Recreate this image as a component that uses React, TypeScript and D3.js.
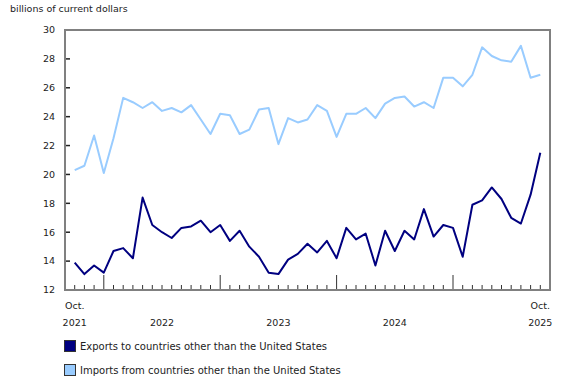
import React from "react";
import * as d3 from "d3";

const months = [
  "2021-10","2021-11","2021-12",
  "2022-01","2022-02","2022-03","2022-04","2022-05","2022-06","2022-07","2022-08","2022-09","2022-10","2022-11","2022-12",
  "2023-01","2023-02","2023-03","2023-04","2023-05","2023-06","2023-07","2023-08","2023-09","2023-10","2023-11","2023-12",
  "2024-01","2024-02","2024-03","2024-04","2024-05","2024-06","2024-07","2024-08","2024-09","2024-10","2024-11","2024-12",
  "2025-01","2025-02","2025-03","2025-04","2025-05","2025-06","2025-07","2025-08","2025-09","2025-10",
];

const exportsData = [
  13.9, 13.1, 13.7,
  13.2, 14.7, 14.9, 14.2, 18.4, 16.5, 16.0, 15.6, 16.3, 16.4, 16.8, 16.0,
  16.5, 15.4, 16.1, 15.0, 14.3, 13.2, 13.1, 14.1, 14.5, 15.2, 14.6, 15.4,
  14.2, 16.3, 15.5, 15.9, 13.7, 16.1, 14.7, 16.1, 15.5, 17.6, 15.7, 16.5,
  16.3, 14.3, 17.9, 18.2, 19.1, 18.3, 17.0, 16.6, 18.6, 21.5,
];

const importsData = [
  20.3, 20.6, 22.7,
  20.1, 22.5, 25.3, 25.0, 24.6, 25.0, 24.4, 24.6, 24.3, 24.8, 23.8, 22.8,
  24.2, 24.1, 22.8, 23.1, 24.5, 24.6, 22.1, 23.9, 23.6, 23.8, 24.8, 24.4,
  22.6, 24.2, 24.2, 24.6, 23.9, 24.9, 25.3, 25.4, 24.7, 25.0, 24.6, 26.7,
  26.7, 26.1, 26.9, 28.8, 28.2, 27.9, 27.8, 28.9, 26.7, 26.9,
];

const yTicks = [12, 14, 16, 18, 20, 22, 24, 26, 28, 30];
const yearLabels = ["2022", "2023", "2024"];
const yearCenterMonths = ["2022-07", "2023-07", "2024-07"];
const seriesNames = [
  "Exports to countries other than the United States",
  "Imports from countries other than the United States",
];
const seriesColors = ["#000080", "#99ccff"];
const yUnit = "billions of current dollars";

const W = 580;
const H = 385;
const L = 65, R = 550, T = 30, B = 290;
const FONT = "'DejaVu Sans', Verdana, sans-serif";

export default function App() {
  const x = d3.scaleLinear().domain([-1, months.length]).range([L, R]);
  const y = d3.scaleLinear().domain([12, 30]).range([B, T]);
  const idx = months.map((_, i) => i);
  const line = d3
    .line<number>()
    .x((_, i) => x(i))
    .y((d) => y(d));

  return (
    <svg
      width={W}
      height={H}
      style={{ position: "absolute", left: 0, top: 0, background: "#fff" }}
      fontFamily={FONT}
    >
      <text x={10} y={12} fontSize={9.5} fill="#222">
        {yUnit}
      </text>

      {/* y ticks and labels */}
      {yTicks.map((t) => (
        <g key={t}>
          <line x1={L} x2={L + 5} y1={y(t)} y2={y(t)} stroke="#222" strokeWidth={1.5} />
          <text x={55} y={y(t)} dy="0.35em" textAnchor="end" fontSize={9.5} fill="#222">
            {t}
          </text>
        </g>
      ))}

      {/* x ticks */}
      {idx.map((i) => {
        const isJan = months[i].endsWith("-01");
        return (
          <line
            key={i}
            x1={x(i)}
            x2={x(i)}
            y1={B}
            y2={isJan ? B - 15 : B - 5}
            stroke="#333"
            strokeWidth={1}
          />
        );
      })}

      {/* frame */}
      <rect x={L} y={T} width={R - L} height={B - T} fill="none" stroke="#808080" strokeWidth={2} />

      {/* lines */}
      <path d={line(importsData) || ""} fill="none" stroke={seriesColors[1]} strokeWidth={2} strokeLinejoin="round" />
      <path d={line(exportsData) || ""} fill="none" stroke={seriesColors[0]} strokeWidth={2} strokeLinejoin="round" />

      {/* x labels */}
      <text x={x(0)} y={308.5} textAnchor="middle" fontSize={9.5} fill="#222">Oct.</text>
      <text x={x(0)} y={325.5} textAnchor="middle" fontSize={9.5} fill="#222">2021</text>
      {yearLabels.map((lab, k) => (
        <text key={lab} x={x(months.indexOf(yearCenterMonths[k]))} y={325.5} textAnchor="middle" fontSize={9.5} fill="#222">
          {lab}
        </text>
      ))}
      <text x={x(months.length - 1)} y={308.5} textAnchor="middle" fontSize={9.5} fill="#222">Oct.</text>
      <text x={x(months.length - 1)} y={325.5} textAnchor="middle" fontSize={9.5} fill="#222">2025</text>

      {/* legend */}
      {seriesNames.map((name, k) => (
        <g key={name} transform={`translate(64, ${340 + k * 24})`}>
          <rect x={0.5} y={0.5} width={11} height={11} fill={seriesColors[k]} stroke="#333" strokeWidth={1} />
          <text x={16} y={6} dy="0.35em" fontSize={10} fill="#222">
            {name}
          </text>
        </g>
      ))}
    </svg>
  );
}
